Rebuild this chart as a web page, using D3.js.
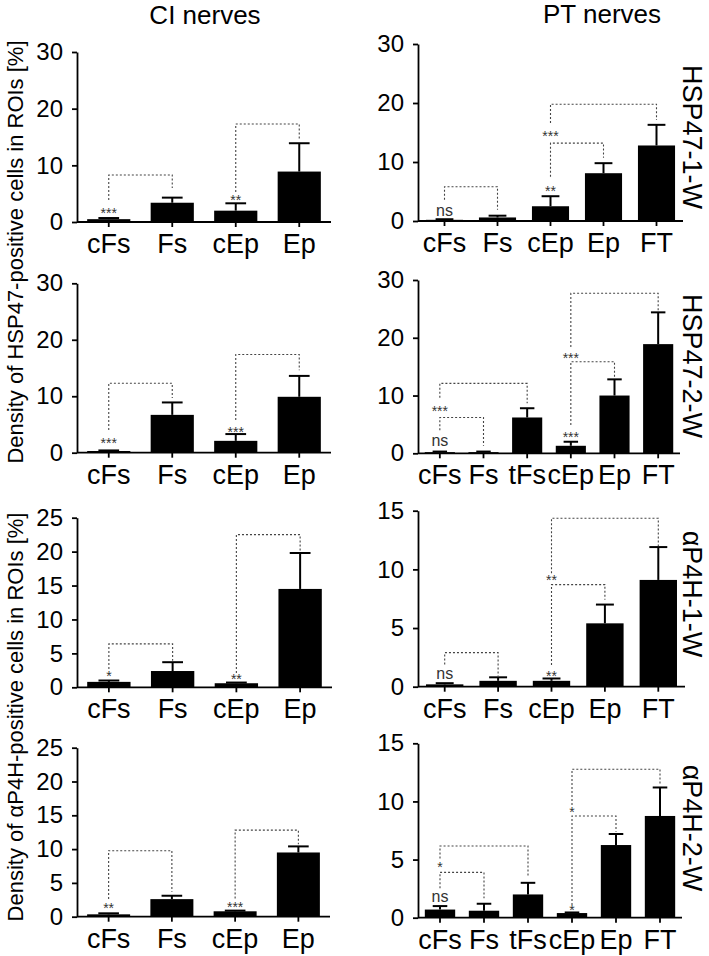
<!DOCTYPE html>
<html><head><meta charset="utf-8">
<script src="https://cdn.jsdelivr.net/npm/d3@7"></script>
<style>
body{margin:0;background:#fff;}
text{font-family:"Liberation Sans",Arial,Helvetica,sans-serif;}
</style></head>
<body><svg id="chart" width="709" height="956"></svg>
<script>
// ---------- data ----------
const ciCats = ["cFs","Fs","cEp","Ep"];
const ptCats5 = ["cFs","Fs","cEp","Ep","FT"];
const ptCats6 = ["cFs","Fs","tFs","cEp","Ep","FT"];

const columnTitles = ["CI nerves","PT nerves"];
const rowLabels = ["HSP47-1-W","HSP47-2-W","\u03B1P4H-1-W","\u03B1P4H-2-W"];
const yAxisLabels = ["Density of HSP47-positive cells in ROIs [%]","Density of \u03B1P4H-positive cells in ROIs [%]"];

const ticks30 = [0,10,20,30];
const ticks25 = [0,5,10,15,20,25];
const ticks15 = [0,5,10,15];

// HSP47-1-W
const hsp1CiMean = [0.5,3.4,2.0,8.9];
const hsp1CiSem  = [0.2,0.9,1.3,5.0];
const hsp1PtMean = [0.2,0.6,2.5,8.1,12.8];
const hsp1PtSem  = [0.1,0.3,1.7,1.7,3.5];
// HSP47-2-W
const hsp2CiMean = [0.3,6.7,2.1,9.9];
const hsp2CiSem  = [0.1,2.2,1.2,3.7];
const hsp2PtMean = [0.2,0.2,6.2,1.3,10.0,18.9];
const hsp2PtSem  = [0.1,0.1,1.6,0.7,2.8,5.5];
// aP4H-1-W
const p4h1CiMean = [0.8,2.4,0.6,14.5];
const p4h1CiSem  = [0.2,1.3,0.1,5.3];
const p4h1PtMean = [0.2,0.5,0.5,5.4,9.1];
const p4h1PtSem  = [0.1,0.3,0.2,1.6,2.8];
// aP4H-2-W
const p4h2CiMean = [0.35,2.6,0.8,9.5];
const p4h2CiSem  = [0.15,0.5,0.1,0.9];
const p4h2PtMean = [0.7,0.6,2.0,0.4,6.25,8.75];
const p4h2PtSem  = [0.3,0.6,1.0,0.05,0.95,2.45];

// significance brackets: [fromIndex, toIndex, startValue, topValue, endValue]
const hsp1CiBrackets = [[0,1,3.9,8.3,6.0],[2,3,5.3,17.3,14.5]];
const hsp1PtBrackets = [[0,1,3.6,5.8,1.9],[2,3,7.5,13.2,10.7],[2,4,16.6,19.8,17.1]];
const hsp2CiBrackets = [[0,1,4.0,12.3,9.7],[2,3,5.8,17.4,14.6]];
const hsp2PtBrackets = [[0,1,4.0,6.2,1.3],[0,2,9.6,12.1,8.65],[3,4,4.9,15.85,13.25],[3,5,18.4,27.7,24.5]];
const p4h1CiBrackets = [[0,1,2.7,6.4,3.9],[2,3,2.1,22.5,20.1]];
const p4h1PtBrackets = [[0,1,1.9,2.9,0.9],[2,3,1.85,8.7,7.4],[2,4,9.67,14.36,12.0]];
const p4h2CiBrackets = [[0,1,2.6,9.76,3.7],[2,3,2.7,12.8,10.7]];
const p4h2PtBrackets = [[0,1,2.53,3.9,1.67],[0,2,5.1,6.17,3.53],[3,4,1.09,8.75,7.4],[3,5,9.7,12.77,11.4]];

// significance labels: [text, categoryIndex, baselineValue]
const hsp1CiStars = [["***",0,0.7],["**",2,3.05]];
const hsp1PtStars = [["ns",0,0.85],["**",2,4.2],["***",2,13.6]];
const hsp2CiStars = [["***",0,0.8],["***",2,2.8]];
const hsp2PtStars = [["ns",0,1.26],["***",0,6.45],["***",3,2.0],["***",3,15.6]];
const p4h1CiStars = [["*",0,0.96],["**",2,0.5]];
const p4h1PtStars = [["ns",0,0.66],["**",2,0.5],["**",2,8.65]];
const p4h2CiStars = [["**",0,0.55],["***",2,0.72]];
const p4h2PtStars = [["ns",0,1.38],["*",0,3.9],["*",3,0.2],["*",3,8.65]];

// ---------- layout ----------
const panels = [
  {cats:ciCats, mean:hsp1CiMean, sem:hsp1CiSem, br:hsp1CiBrackets, st:hsp1CiStars, ticks:ticks30, x0:77, x1:331, y0:222, yT:52},
  {cats:ptCats5, mean:hsp1PtMean, sem:hsp1PtSem, br:hsp1PtBrackets, st:hsp1PtStars, ticks:ticks30, x0:418, x1:683, y0:221, yT:44},
  {cats:ciCats, mean:hsp2CiMean, sem:hsp2CiSem, br:hsp2CiBrackets, st:hsp2CiStars, ticks:ticks30, x0:77, x1:331, y0:452.7, yT:283.3},
  {cats:ptCats6, mean:hsp2PtMean, sem:hsp2PtSem, br:hsp2PtBrackets, st:hsp2PtStars, ticks:ticks30, x0:418, x1:680, y0:453.3, yT:280},
  {cats:ciCats, mean:p4h1CiMean, sem:p4h1CiSem, br:p4h1CiBrackets, st:p4h1CiStars, ticks:ticks25, x0:77, x1:332, y0:687.3, yT:517.7},
  {cats:ptCats5, mean:p4h1PtMean, sem:p4h1PtSem, br:p4h1PtBrackets, st:p4h1PtStars, ticks:ticks15, x0:418, x1:685, y0:686.7, yT:510.7},
  {cats:ciCats, mean:p4h2CiMean, sem:p4h2CiSem, br:p4h2CiBrackets, st:p4h2CiStars, ticks:ticks25, x0:77, x1:330, y0:916.7, yT:747.7},
  {cats:ptCats6, mean:p4h2PtMean, sem:p4h2PtSem, br:p4h2PtBrackets, st:p4h2PtStars, ticks:ticks15, x0:418, x1:682, y0:917.7, yT:743.3}
];

const svg = d3.select("#chart");

panels.forEach(p => {
  const n = p.cats.length;
  const pin = n === 4 ? 0.32 : (n === 5 ? 0.30 : 0.31);
  const x = d3.scaleBand().domain(p.cats.map((c,i)=>i)).range([p.x0,p.x1]).paddingInner(pin).paddingOuter(pin/2);
  const y = d3.scaleLinear().domain([0, d3.max(p.ticks)]).range([p.y0, p.yT]);
  const g = svg.append("g");
  const bw = x.bandwidth();
  const cx = i => x(i) + bw/2;

  // error bars
  p.mean.forEach((m,i) => {
    const top = m + p.sem[i];
    g.append("line").attr("x1",cx(i)).attr("x2",cx(i)).attr("y1",y(m)).attr("y2",y(top))
      .attr("stroke","#000").attr("stroke-width",2);
    g.append("line").attr("x1",cx(i)-bw*0.24).attr("x2",cx(i)+bw*0.24).attr("y1",y(top)).attr("y2",y(top))
      .attr("stroke","#000").attr("stroke-width",2);
  });
  // bars
  g.selectAll("rect.bar").data(p.mean).enter().append("rect")
    .attr("x",(d,i)=>x(i)).attr("width",bw)
    .attr("y",d=>y(d)).attr("height",d=>y(0)-y(d)).attr("fill","#000");

  // brackets
  p.br.forEach(b => {
    const [a,c,s,t,e] = b;
    g.append("path")
      .attr("d", `M${cx(a)},${y(s)}V${y(t)}H${cx(c)}V${y(e)}`)
      .attr("fill","none").attr("stroke","#444").attr("stroke-width",1.1).attr("stroke-dasharray","2,2");
  });
  // stars
  p.st.forEach(s => {
    g.append("text").attr("x",cx(s[1])).attr("y",y(s[2]))
      .attr("text-anchor","middle").attr("fill","#333")
      .attr("font-size", s[0]==="ns" ? 16 : 14).text(s[0]);
  });

  // axes
  const ya = d3.axisLeft(y).tickValues(p.ticks).tickSize(5).tickSizeOuter(0).tickPadding(9);
  const yg = svg.append("g").attr("transform",`translate(${p.x0},0)`).call(ya);
  yg.selectAll("text").attr("font-size",24).attr("fill","#000");
  yg.selectAll("path,line").attr("stroke","#000").attr("stroke-width",1.8);

  const xa = d3.axisBottom(x).tickFormat(i=>p.cats[i]).tickSize(5).tickSizeOuter(0).tickPadding(7);
  const xg = svg.append("g").attr("transform",`translate(0,${p.y0})`).call(xa);
  xg.select("path.domain").attr("d",`M${p.x0},0H${p.x1}`);
  xg.selectAll("text").attr("font-size",27).attr("fill","#000");
  xg.selectAll("path,line").attr("stroke","#000").attr("stroke-width",1.8);
});

// titles
svg.append("text").attr("x",205).attr("y",24).attr("text-anchor","middle").attr("font-size",26).text(columnTitles[0]);
svg.append("text").attr("x",602).attr("y",23).attr("text-anchor","middle").attr("font-size",26).text(columnTitles[1]);

// row labels on right
const rowCenters = [137,366,594,828];
rowLabels.forEach((t,i) => {
  svg.append("text").attr("transform",`translate(683,${rowCenters[i]}) rotate(90)`)
    .attr("text-anchor","middle").attr("font-size",27).text(t);
});

// y axis labels
const yLabelCenters = [252,717];
yAxisLabels.forEach((t,i) => {
  svg.append("text").attr("transform",`translate(23,${yLabelCenters[i]}) rotate(-90)`)
    .attr("text-anchor","middle").attr("font-size",22).text(t);
});
</script></body></html>
